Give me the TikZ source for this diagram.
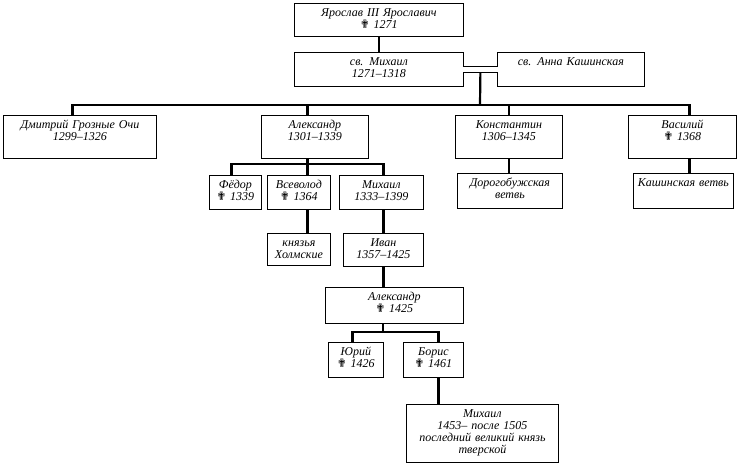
\documentclass[tikz,border=0pt]{standalone}
\usepackage{fontspec}
\setmainfont{Liberation Serif}
\newfontfamily\symfont{DejaVu Sans}
\usetikzlibrary{calc}
\newcommand{\dcross}{{\symfont\fontsize{11.5}{12}\selectfont ✟}}
\tikzset{
    person/.style 2 args={draw, line width=0.8pt, anchor=north west,
        text width=#1pt, align=center, inner xsep=0pt, inner ysep=4.5pt,
        text height=8.5pt, text depth={#2-17.5},
        font=\fontsize{12}{12}\selectfont\itshape},
    link/.style={line width=2.2pt}
}
\begin{document}
\begin{tikzpicture}[x=1pt, y=-1pt]
            \useasboundingbox (0,0) rectangle (739,464);
            % generation 1
            \node[person={169}{33}] (yar) at (294,3) {Ярослав III Ярославич\\\dcross{} 1271};
            \node[person={169}{34}] (mikh) at (294,52) {св. Михаил\\1271--1318};
            \node[person={147}{34}] (anna) at (497,52) {св. Анна Кашинская};
            \draw[link] (yar.south) -- (mikh.north);
            \draw[double, double distance=5pt, line width=0.9pt] ([xshift=-1pt]mikh.east) -- ([xshift=1pt]anna.west);
            \coordinate (m) at ($(mikh.east)!0.5!(anna.west)+(0,3)$);
            % generation 2
            \node[person={153}{43}] (dmi) at (3,115) {Дмитрий Грозные Очи\\1299--1326};
            \node[person={107}{43}] (alex) at (261,115) {Александр\\1301--1339};
            \node[person={107}{43}] (kon) at (455,115) {Константин\\1306--1345};
            \node[person={108}{43}] (vas) at (628,115) {Василий\\\dcross{} 1368};
            \coordinate (bus1) at (480,105);
            \draw[link] (m) -- (bus1);
            \draw[link] ([xshift=-7.5pt]dmi.north) |- (bus1) -| ([xshift=7pt]vas.north);
            \draw[link] ([xshift=-7.5pt]alex.north) -- ([xshift=-7.5pt]alex.north |- bus1);
            \draw[link] (kon.north) -- (kon.north |- bus1);
            % branches
            \node[person={105}{35}] (dor) at (457,173) {Дорогобужская\\ветвь};
            \node[person={100}{35}] (kash) at (633,173) {Кашинская ветвь};
            \draw[link] (kon.south) -- (kon.south |- dor.north);
            \draw[link] ([xshift=7pt]vas.south) -- ([xshift=7pt]vas.south |- kash.north);
            % generation 3
            \node[person={52}{34}] (fed) at (209,175) {Фёдор\\\dcross{} 1339};
            \node[person={63}{34}] (vse) at (267,175) {Всеволод\\\dcross{} 1364};
            \node[person={84}{34}] (mih2) at (339,175) {Михаил\\1333--1399};
            \coordinate (bus2) at (307,164);
            \draw[link] ([xshift=-7.5pt]alex.south) -- ([xshift=-7.5pt]alex.south |- vse.north);
            \draw[link] ([xshift=-4pt]fed.north) |- (bus2) -| ([xshift=2pt]mih2.north);
            % generation 4
            \node[person={63}{32}] (hol) at (267,233) {князья\\Холмские};
            \node[person={80}{33}] (ivan) at (343,233) {Иван\\1357--1425};
            \draw[link] ([xshift=8.5pt]vse.south) -- ([xshift=8.5pt]vse.south |- hol.north);
            \draw[link] ([xshift=2pt]mih2.south) -- ([xshift=2pt]mih2.south |- ivan.north);
            % generation 5
            \node[person={138}{36}] (alex2) at (325,287) {Александр\\\dcross{} 1425};
            \draw[link] (ivan.south) -- (ivan.south |- alex2.north);
            % generation 6
            \node[person={55}{35}] (yur) at (328,342) {Юрий\\\dcross{} 1426};
            \node[person={60}{35}] (bor) at (403,342) {Борис\\\dcross{} 1461};
            \coordinate (bus3) at (383,332);
            \draw[link] (alex2.south -| bus3) -- (bus3);
            \draw[link] ([xshift=-3.5pt]yur.north) |- (bus3) -| ([xshift=5pt]bor.north);
            % generation 7
            \node[person={152}{58}] (mih3) at (406,404) {Михаил\\1453-- после 1505\\последний великий князь\\тверской};
            \draw[link] ([xshift=5pt]bor.south) -- ([xshift=5pt]bor.south |- mih3.north);
        \end{tikzpicture}
\end{document}
